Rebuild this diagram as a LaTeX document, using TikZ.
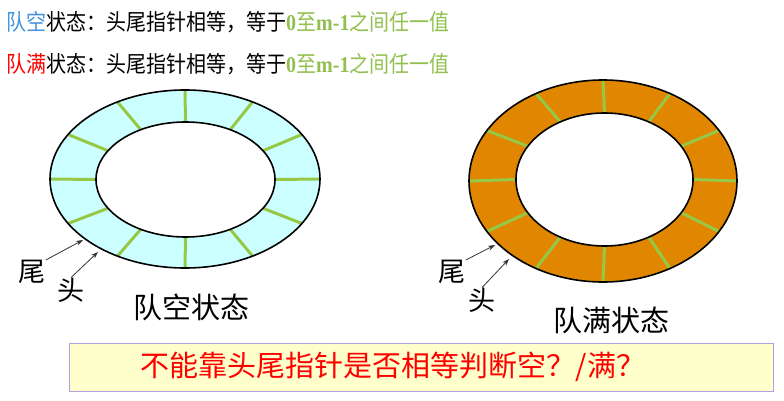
\documentclass[tikz,border=0pt]{standalone}
\usepackage{fontspec}
\setmainfont{Noto Sans CJK SC}
\newfontfamily\tnr{Liberation Serif}
\usepackage{tikz}
\usetikzlibrary{arrows,arrows.meta,positioning,calc}
\definecolor{qblue}{RGB}{66,146,222}
\definecolor{qgreen}{RGB}{146,192,80}
\definecolor{spokegreen}{RGB}{150,200,70}
\definecolor{ringcyan}{RGB}{204,255,255}
\definecolor{ringorange}{RGB}{224,134,0}
\definecolor{boxyellow}{RGB}{255,255,204}
\definecolor{boxborder}{RGB}{180,160,225}
\tikzset{x=1pt, y=-1pt}
\tikzstyle{hdr}=[inner sep=0pt, anchor=west, font=\fontsize{20}{24}\selectfont]
\tikzstyle{ringlbl}=[inner sep=0pt, font=\fontsize{29}{34}\selectfont]
\tikzstyle{ptr}=[inner sep=0pt, font=\fontsize{27}{32}\selectfont]
\tikzstyle{rim}=[draw=black, line width=1.6pt]
\tikzstyle{spoke}=[draw=spokegreen, line width=3pt]
\tikzstyle{arrow}=[-{Stealth[length=7pt,width=5pt]}, line width=0.8pt, draw=black!80]
\newcommand{\latn}[1]{{\tnr\bfseries #1}}
\newcommand{\tall}[1]{\scalebox{1}[1.13]{#1}}

\begin{document}
\begin{tikzpicture}
  \useasboundingbox (0,0) rectangle (784,401);

  \node[hdr] (emptyline) at (6,22) {\tall{\textcolor{qblue}{队空}状态：头尾指针相等，等于\textcolor{qgreen}{\latn{0}至\latn{m-1}之间任一值}}};
  \node[hdr, on grid] (fullline) [below=42pt of emptyline] {\tall{\textcolor{red}{队满}状态：头尾指针相等，等于\textcolor{qgreen}{\latn{0}至\latn{m-1}之间任一值}}};

  % empty queue
  \fill[ringcyan, even odd rule] (185,179) ellipse [x radius=135, y radius=89]
    (185.5,179.5) ellipse [x radius=89.5, y radius=57.5];
  \foreach \a in {0,30,...,330}
    \draw[spoke] ($(185.5,179.5)+(\a:89.5 and 57.5)$) -- ($(185,179)+(\a:135 and 89)$);
  \draw[rim] (185,179) ellipse [x radius=135, y radius=89];
  \draw[rim] (185.5,179.5) ellipse [x radius=89.5, y radius=57.5];

  \coordinate (emptytailpt) at (83,240);
  \coordinate (emptyheadpt) at (98,252);
  \node[ptr] (emptytail) at (32,272) {尾};
  \node[ptr] (emptyhead) at (71,290) {头};
  \draw[arrow] (emptytail.north east) -- (emptytailpt);
  \draw[arrow] (emptyhead.north) -- (emptyheadpt);
  \node[ringlbl] (emptycap) at (191,307) {队空状态};

  % full queue
  \fill[ringorange, even odd rule] (603,181) ellipse [x radius=134, y radius=101]
    (604.5,179.5) ellipse [x radius=88.5, y radius=66.5];
  \foreach \a in {0,30,...,330}
    \draw[spoke] ($(604.5,179.5)+(\a:88.5 and 66.5)$) -- ($(603,181)+(\a:134 and 101)$);
  \draw[rim] (603,181) ellipse [x radius=134, y radius=101];
  \draw[rim] (604.5,179.5) ellipse [x radius=88.5, y radius=66.5];

  \coordinate (fulltailpt) at (495,245);
  \coordinate (fullheadpt) at (509,259);
  \node[ptr] (fulltail) at (452,272) {尾};
  \node[ptr] (fullhead) at (482,300) {头};
  \draw[arrow] (fulltail.north east) -- (fulltailpt);
  \draw[arrow] (fullhead.north) -- (fullheadpt);
  \node[ringlbl] (fullcap) at (611,320) {队满状态};

  % question
  \node[draw=boxborder, fill=boxyellow, line width=1pt, minimum width=704pt,
        minimum height=48pt, inner sep=0pt] (notebox) at (421,367) {};
  \node[ringlbl, text=red] (question) at (393,367) {不能靠头尾指针是否相等判断空？/满？};
\end{tikzpicture}
\end{document}
